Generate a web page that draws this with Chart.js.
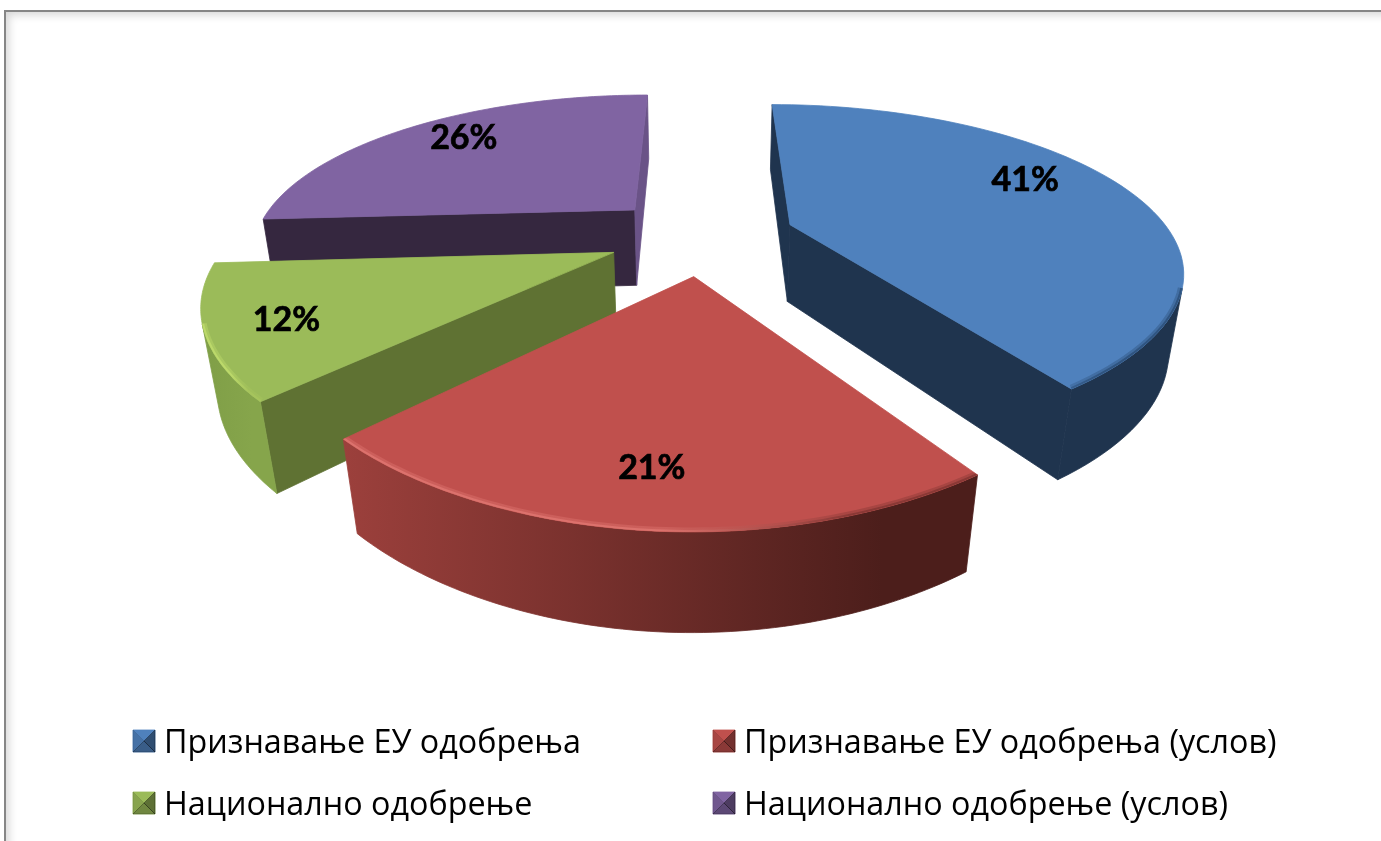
<!DOCTYPE html>
<html>
<head>
<meta charset="utf-8">
<script src="https://cdn.jsdelivr.net/npm/chart.js@4/dist/chart.umd.js"></script>
<style>
    html, body { margin: 0; padding: 0; background: #fff; overflow: hidden; }
    #frame {
        position: absolute; left: 4px; top: 10px; width: 1400px; height: 860px;
        border: 2px solid #868686;
        box-shadow: inset 3px 3px 9px rgba(0, 0, 0, 0.16);
    }
    #pie { position: absolute; left: 0; top: 0; }
</style>
</head>
<body>
<div id="frame"></div>
<canvas id="pie" width="1381" height="841"></canvas>
<script>
const categories = ['Признавање ЕУ одобрења', 'Признавање ЕУ одобрења (услов)', 'Национално одобрење', 'Национално одобрење (услов)'];
const shares = [41, 21, 12, 26];
const topColors = ['#4f81bd', '#c0504d', '#9bbb59', '#8064a2'];

// walls of each slice: [start wall, end wall], outer wall gradient stops, rim highlight
const radialWalls = [['#1f344e', '#1f344e'], ['#8a3835', '#4f201d'], ['#5f7233', '#5f7233'], ['#35273f', '#6a5387']];
const outerWalls = [['#1f344e', '#1f344e'], ['#9c403c', '#4c1e1b'], ['#7f9e47', '#86a54b'], ['#35273f', '#35273f']];
const rimColors = [['#4f81bd', '#2f5480'], ['#dc726d', '#8a3835'], ['#bcd96a', '#a6c45c'], ['#8064a2', '#8064a2']];
const paintOrder = [3, 0, 2, 1];

// nudges of the percent labels from the slice bisector, px
const labelNudge = [[-33, -13], [3, 12], [-5, 6], [11, -3]];

const explode = 0.25;
const explodeShift = [0, 0.008, 0.006, 0.004];
const legendX = [133, 713];
const legendY = [730, 792];

// perspective of the extruded pie, fitted on the picture
function project(p, z) {
    const w = 0.001625 - 0.00041 * p[1] + 0.00005 * z;
    return { x: 700 + 0.62 * p[0] / w, y: -380 + (1 + 0.161 * z) / w };
}

function sliceGeometry(el, i) {
    const a0 = el.startAngle + Math.PI / 2;
    const a1 = el.endAngle + Math.PI / 2;
    const mid = (a0 + a1) / 2;
    const ox = explode * Math.sin(mid) + explodeShift[i];
    const oy = -explode * Math.cos(mid);
    const steps = 80;
    const rim = [];
    for (let k = 0; k <= steps; k++) {
        const a = a0 + (a1 - a0) * k / steps;
        // the near part of the rim bulges a little more than the far one
        const c = Math.cos(a);
        const near = c < 0 ? c * c * c * c : 0;
        rim.push([ox + Math.sin(a) * (1 + 0.012 * near), oy - c * (1 + 0.04 * near)]);
    }
    return { apex: [ox, oy], rim, mid };
}

function fillPoly(ctx, pts, color) {
    ctx.beginPath();
    pts.forEach((p, i) => i ? ctx.lineTo(p.x, p.y) : ctx.moveTo(p.x, p.y));
    ctx.closePath();
    ctx.fillStyle = color;
    ctx.fill();
    ctx.strokeStyle = color;
    ctx.lineWidth = 0.8;
    ctx.stroke();
}

function facesViewer(a, b) {
    const pts = [project(a, 0), project(b, 0), project(b, 1), project(a, 1)];
    let s = 0;
    pts.forEach((p, i) => {
        const q = pts[(i + 1) % pts.length];
        s += p.x * q.y - q.x * p.y;
    });
    return s < 0;
}

function wall(ctx, a, b, color) {
    if (facesViewer(a, b)) fillPoly(ctx, [project(a, 0), project(b, 0), project(b, 1), project(a, 1)], color);
}

function drawSlice(ctx, el, i) {
    const g = sliceGeometry(el, i);
    const first = g.rim[0];
    const last = g.rim[g.rim.length - 1];

    wall(ctx, g.apex, first, radialWalls[i][0]);
    wall(ctx, last, g.apex, radialWalls[i][1]);

    // outer wall, the runs of rim that face the viewer as one shape
    const xs = g.rim.map(p => project(p, 0).x);
    const minX = Math.min(...xs);
    const maxX = Math.max(...xs);
    const grad = ctx.createLinearGradient(minX, 0, maxX, 0);
    grad.addColorStop(0, outerWalls[i][0]);
    grad.addColorStop(0.85, outerWalls[i][1]);
    grad.addColorStop(1, outerWalls[i][1]);
    const runs = [];
    let run = [];
    for (let k = 0; k < g.rim.length - 1; k++) {
        if (facesViewer(g.rim[k], g.rim[k + 1])) {
            if (!run.length) run.push(g.rim[k]);
            run.push(g.rim[k + 1]);
        } else if (run.length) {
            runs.push(run);
            run = [];
        }
    }
    if (run.length) runs.push(run);
    runs.forEach(r => {
        fillPoly(ctx, [...r.map(p => project(p, 0)), ...r.slice().reverse().map(p => project(p, 1))], grad);
    });

    // top face
    const top = [g.apex, ...g.rim].map(p => project(p, 0));
    fillPoly(ctx, top, topColors[i]);

    // soft bevel along the edge that has a wall below it
    ctx.save();
    ctx.beginPath();
    top.forEach((p, k) => k ? ctx.lineTo(p.x, p.y) : ctx.moveTo(p.x, p.y));
    ctx.closePath();
    ctx.clip();
    const rimGrad = ctx.createLinearGradient(minX, 0, maxX, 0);
    rimGrad.addColorStop(0, rimColors[i][0]);
    rimGrad.addColorStop(0.5, rimColors[i][0]);
    rimGrad.addColorStop(0.8, rimColors[i][1]);
    rimGrad.addColorStop(1, rimColors[i][1]);
    runs.forEach(r => {
        ctx.beginPath();
        r.map(p => project(p, 0)).forEach((p, k) => k ? ctx.lineTo(p.x, p.y) : ctx.moveTo(p.x, p.y));
        ctx.strokeStyle = rimGrad;
        ctx.globalAlpha = 0.45;
        ctx.lineWidth = 9;
        ctx.stroke();
        ctx.globalAlpha = 1;
        ctx.lineWidth = 4;
        ctx.stroke();
    });
    ctx.restore();
}

function drawLabel(ctx, el, i) {
    const g = sliceGeometry(el, i);
    const t = 1.05;
    const p = project([t * Math.sin(g.mid), -t * Math.cos(g.mid)], 0);
    ctx.font = 'bold 34px Lato, "Open Sans", sans-serif';
    ctx.fillStyle = '#000';
    ctx.strokeStyle = '#000';
    ctx.lineWidth = 0.7;
    ctx.textAlign = 'center';
    ctx.textBaseline = 'middle';
    ctx.fillText(shares[i] + '%', p.x + labelNudge[i][0], p.y + labelNudge[i][1]);
    ctx.strokeText(shares[i] + '%', p.x + labelNudge[i][0], p.y + labelNudge[i][1]);
}

function drawMarker(ctx, x, y, i) {
    const s = 22;
    const c = { x: x + s / 2, y: y + s / 2 };
    const tl = { x, y }, tr = { x: x + s, y }, br = { x: x + s, y: y + s }, bl = { x, y: y + s };
    fillPoly(ctx, [tl, tr, br, bl], topColors[i]);
    fillPoly(ctx, [tl, bl, c], 'rgba(0,0,0,0.12)');
    fillPoly(ctx, [tr, br, c], 'rgba(0,0,0,0.4)');
    fillPoly(ctx, [bl, br, c], 'rgba(0,0,0,0.28)');
}

const pie3d = {
    id: 'pie3d',
    beforeDatasetsDraw(chart) {
        const ctx = chart.ctx;
        const arcs = chart.getDatasetMeta(0).data;
        ctx.save();
        paintOrder.forEach(i => drawSlice(ctx, arcs[i], i));
        paintOrder.forEach(i => drawLabel(ctx, arcs[i], i));

        // legend in two fixed columns
        ctx.font = '32.3px "Open Sans", sans-serif';
        ctx.textAlign = 'left';
        ctx.textBaseline = 'alphabetic';
        categories.forEach((name, i) => {
            const x = legendX[i % 2];
            const y = legendY[Math.floor(i / 2)];
            drawMarker(ctx, x, y, i);
            ctx.fillStyle = '#000';
            ctx.fillText(name, x + 31, y + 23);
        });
        ctx.restore();
        return false;
    }
};

new Chart(document.getElementById('pie').getContext('2d'), {
    type: 'pie',
    data: {
        labels: categories,
        datasets: [{ data: shares, backgroundColor: topColors }]
    },
    options: {
        responsive: false,
        animation: false,
        plugins: { legend: { display: false }, tooltip: { enabled: false } }
    },
    plugins: [pie3d]
});
</script>
</body>
</html>
